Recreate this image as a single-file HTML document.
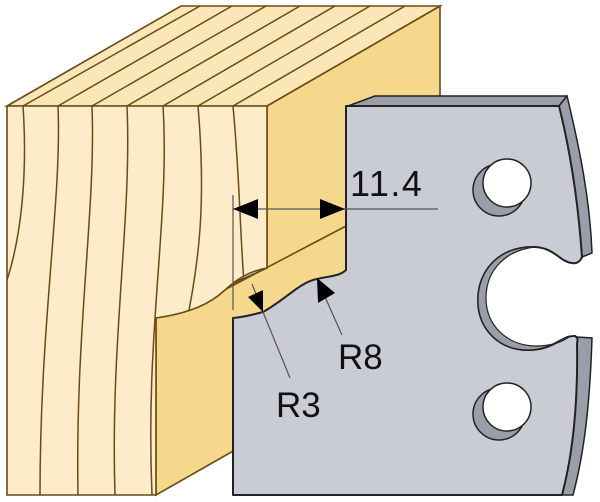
<!DOCTYPE html>
<html><head><meta charset="utf-8"><style>
html,body{margin:0;padding:0;background:#fff;}
svg{display:block;}
text{font-family:"Liberation Sans",sans-serif;fill:#111;}
</style></head><body>
<svg width="600" height="502" viewBox="0 0 600 502" xmlns="http://www.w3.org/2000/svg">
<defs>
<clipPath id="front"><path d="M7,106 L267,106 L267,268 C255,270 240,276 225,290 C210,304 190,313 156,318 L156,495 L7,495 Z"/></clipPath>
<clipPath id="top"><path d="M7,106 L181,6 L440,6 L267,106 Z"/></clipPath>
</defs>
<path d="M267,106 L440,6 L440,200 L235,450 L156,495 L156,318 L267,268 Z" fill="#f5d88c" stroke="#6b4a14" stroke-width="1.6"/>
<line x1="190" y1="308" x2="346" y2="226" stroke="#6b4a14" stroke-width="1.6"/>
<path d="M7,106 L181,6 L440,6 L267,106 Z" fill="#fbe6b8" stroke="#6b4a14" stroke-width="1.6"/>
<g clip-path="url(#top)" stroke="#6b4a14" stroke-width="1.5" fill="none">
<path d="M23,106 L200,6"/><path d="M58,106 L232,6"/><path d="M92,106 L266,6"/><path d="M127,106 L300,6"/>
<path d="M163,106 L335,6"/><path d="M198,106 L370,6"/><path d="M233,106 L405,6"/>
</g>
<path d="M7,106 L267,106 L267,268 C255,270 240,276 225,290 C210,304 190,313 156,318 L156,495 L7,495 Z" fill="#fdecc9" stroke="#6b4a14" stroke-width="1.6"/>
<g clip-path="url(#front)" stroke="#6b4a14" stroke-width="1.5" fill="none">
<path d="M23,106 C28,180 20,240 7,280"/>
<path d="M58,106 C62,200 40,320 40,495"/>
<path d="M92,106 C96,210 75,330 78,495"/>
<path d="M127,106 C132,220 110,340 115,495"/>
<path d="M163,106 C170,220 145,330 152,495"/>
<path d="M198,106 C206,200 200,260 185,330"/>
<path d="M233,106 C240,180 240,240 245,295"/>
</g>
<path d="M348,106 L375,96 L567,96 L559,106 Z" fill="#9a9ea8" stroke="#222" stroke-width="1.5" stroke-linejoin="round"/>
<path d="M567,96 C580,150 590,200 592,253 L582,257 C578,200 570,150 559,106 Z" fill="#9a9ea8" stroke="#222" stroke-width="1.5"/>
<path d="M577,337 L592,338 C590,400 585,450 573,495 L562,495 C574,450 578,400 577,343 Z" fill="#9a9ea8" stroke="#222" stroke-width="1.5"/>
<path d="M346,106 L559,106 C570,150 578,200 582,257 C580,262 576,264 572,263 C560,262 555,248 535,247 C500,246 478,270 478,300 C478,330 500,350 528,350 C555,350 562,335 575,336 C578,338 578,340 577,343 C578,400 574,450 562,495 L233,495 L233,318 C245,317 255,314 263,312 C285,300 300,282 317,279 C330,276 340,276 346,270 Z" fill="#c9ccd5" stroke="#222" stroke-width="2" stroke-linejoin="round"/>
<path d="M535,247 C500,246 478,270 478,300 C478,330 500,350 528,350 C550,350 560,338 570,336 C560,344 548,346 536,346 C508,346 486,326 486,298 C486,270 506,250 535,247 Z" fill="#9a9ea8" stroke="#222" stroke-width="1.2"/>
<g stroke="#222" stroke-width="1.5">
<circle cx="499" cy="190" r="26" fill="#9a9ea8"/>
<circle cx="507" cy="183" r="24" fill="#fff"/>
<circle cx="499" cy="414" r="26" fill="#9a9ea8"/>
<circle cx="507" cy="407" r="24" fill="#fff"/>
</g>
<g stroke="#555" stroke-width="1.2">
<line x1="233" y1="195" x2="233" y2="310"/>
<line x1="233" y1="209" x2="438" y2="209"/>
<line x1="263" y1="312" x2="290" y2="378"/>
<line x1="252" y1="284" x2="263" y2="312"/>
<line x1="317" y1="279" x2="342" y2="335"/>
</g>
<polygon points="233,209 258,199 258,219" fill="#000"/>
<polygon points="345,209 320,199 320,219" fill="#000"/>
<polygon points="263,312 248,297 263,290" fill="#000"/>
<polygon points="317,278 318,303 335,293" fill="#000"/>
<text x="350" y="196" font-size="36" letter-spacing="1.5">11.4</text>
<text x="338" y="369" font-size="35">R8</text>
<text x="276" y="417" font-size="35">R3</text>
</svg>
</body></html>
